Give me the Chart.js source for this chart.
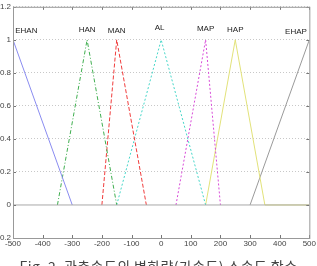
<!DOCTYPE html>
<html>
<head>
<meta charset="utf-8">
<script src="https://cdn.jsdelivr.net/npm/chart.js@4/dist/chart.umd.min.js"></script>
<style>
html,body{margin:0;padding:0;background:#fff;overflow:hidden;}
#wrap{position:relative;width:317px;height:266px;overflow:hidden;}
#caption{position:absolute;left:0;width:317px;top:258px;text-align:center;font-family:"Noto Sans CJK KR","Liberation Sans",sans-serif;font-size:14px;letter-spacing:0.4px;color:#444;white-space:nowrap;line-height:16px;}
</style>
</head>
<body>
<div id="wrap">
<canvas id="c" width="317" height="266"></canvas>
<div id="caption">Fig. 2. 관측속도의 변화량(가속도) 소속도 함수</div>
</div>
<script>
// membership function break points (x) and membership values (y)
const ehanX = [-500, -300];          const ehanY = [1, 0];
const hanX  = [-350, -250, -150];    const hanY  = [0, 1, 0];
const manX  = [-200, -150, -50];     const manY  = [0, 1, 0];
const alX   = [-150, 0, 150];        const alY   = [0, 1, 0];
const mapX  = [50, 150, 200];        const mapY  = [0, 1, 0];
const hapX  = [150, 250, 350, 500];  const hapY  = [0, 1, 0, 0];
const ehapX = [300, 500];            const ehapY = [0, 1];
const zeroX = [-500, 500];           const zeroY = [0, 0];

const labelNames = ['EHAN', 'HAN', 'MAN', 'AL', 'MAP', 'HAP', 'EHAP'];
const labelX = [-455, -250, -150, -5, 150, 250, 455];
const labelY = [1.055, 1.06, 1.052, 1.07, 1.065, 1.06, 1.05];

const xTicks = [-500, -400, -300, -200, -100, 0, 100, 200, 300, 400, 500];
const yTicks = [-0.2, 0, 0.2, 0.4, 0.6, 0.8, 1, 1.2];

function pts(xs, ys) { return xs.map((x, i) => ({x: x, y: ys[i]})); }
function ds(xs, ys, color, dash) {
  return {data: pts(xs, ys), borderColor: color, borderWidth: 1, borderDash: dash,
          showLine: true, pointRadius: 0, fill: false, tension: 0};
}

const labelPlugin = {
  id: 'mfLabels',
  afterDatasetsDraw(chart) {
    const ctx = chart.ctx, xs = chart.scales.x, ys = chart.scales.y;
    ctx.save();
    ctx.font = '8px "Liberation Sans", Arial, sans-serif';
    ctx.fillStyle = '#222';
    ctx.textAlign = 'center';
    ctx.textBaseline = 'middle';
    labelNames.forEach((n, i) => ctx.fillText(n, xs.getPixelForValue(labelX[i]), ys.getPixelForValue(labelY[i])));
    // inward tick marks on all four sides
    ctx.strokeStyle = '#777';
    ctx.lineWidth = 1;
    const a = chart.chartArea;
    xTicks.forEach(v => {
      const px = Math.round(xs.getPixelForValue(v)) + 0.5;
      ctx.beginPath(); ctx.moveTo(px, a.top); ctx.lineTo(px, a.top + 3); ctx.stroke();
      ctx.beginPath(); ctx.moveTo(px, a.bottom); ctx.lineTo(px, a.bottom - 3); ctx.stroke();
    });
    yTicks.forEach(v => {
      const py = Math.round(ys.getPixelForValue(v)) + 0.5;
      ctx.beginPath(); ctx.moveTo(a.left, py); ctx.lineTo(a.left + 3, py); ctx.stroke();
      ctx.beginPath(); ctx.moveTo(a.right, py); ctx.lineTo(a.right - 3, py); ctx.stroke();
    });
    ctx.strokeStyle = '#999';
    ctx.strokeRect(a.left + 0.5, a.top + 0.5, a.right - a.left, a.bottom - a.top);
    ctx.restore();
  }
};

new Chart(document.getElementById('c'), {
  type: 'scatter',
  data: {
    datasets: [
      ds(zeroX, zeroY, '#a8a8a8', []),
      ds(ehanX, ehanY, '#8a8cf0', []),
      ds(hanX, hanY, '#3fae4f', [4, 2, 1, 2]),
      ds(manX, manY, '#f03c3c', [4, 2]),
      ds(alX, alY, '#45d6c8', [2, 2]),
      ds(mapX, mapY, '#d84ad8', [2, 2]),
      ds(hapX, hapY, '#e2e27a', []),
      ds(ehapX, ehapY, '#9a9a9a', [])
    ]
  },
  options: {
    responsive: false,
    animation: false,
    layout: {padding: {top: 5, right: 7, left: 0, bottom: 0}},
    plugins: {legend: {display: false}, tooltip: {enabled: false}},
    scales: {
      x: {
        type: 'linear', min: -500, max: 500,
        afterBuildTicks: s => { s.ticks = xTicks.map(v => ({value: v})); },
        afterFit: s => { s.height = 28; },
        grid: {display: false, drawTicks: false, tickLength: 0},
        border: {display: false},
        ticks: {font: {size: 8, family: '"Liberation Sans", Arial, sans-serif'}, color: '#444', padding: 1, maxRotation: 0, autoSkip: false}
      },
      y: {
        type: 'linear', min: -0.2, max: 1.2,
        afterBuildTicks: s => { s.ticks = yTicks.map(v => ({value: v})); },
        afterFit: s => { s.width = 13; },
        grid: {color: ctx => (ctx.tick && Math.abs(ctx.tick.value) < 1e-9) ? 'rgba(0,0,0,0)' : '#c8c8c8', drawTicks: false},
        border: {display: false, dash: [1, 2]},
        ticks: {font: {size: 8, family: '"Liberation Sans", Arial, sans-serif'}, color: '#444', padding: 2, autoSkip: false,
                callback: v => String(Math.round(v * 10) / 10)}
      }
    }
  },
  plugins: [labelPlugin]
});
</script>
</body>
</html>
